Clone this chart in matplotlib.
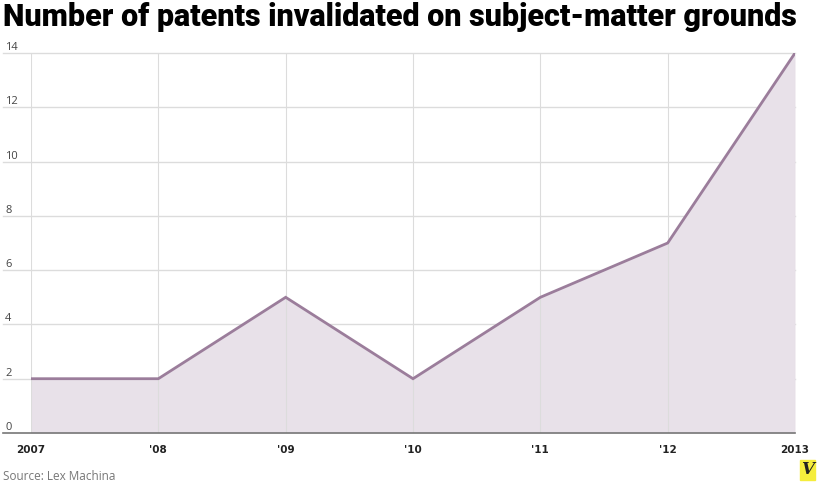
import matplotlib
matplotlib.use("Agg")
import matplotlib.pyplot as plt
from matplotlib.patches import Rectangle

# data
years = [2007, 2008, 2009, 2010, 2011, 2012, 2013]
year_labels = ["2007", "'08", "'09", "'10", "'11", "'12", "2013"]
invalidated = [2, 2, 5, 2, 5, 7, 14]
y_ticks = [0, 2, 4, 6, 8, 10, 12, 14]

line_color = "#9b7d9b"
fill_color = "#e8e1e9"
grid_color = "#dcdcdc"

fig = plt.figure(figsize=(8.18, 4.84), dpi=100)
ax = fig.add_axes([0.0379, 0.1054, 0.934, 0.785])

ax.fill_between(years, invalidated, 0, color=fill_color, lw=0, zorder=1)
ax.plot(years, invalidated, color=line_color, lw=2, zorder=3, solid_joinstyle="miter")

ax.set_xlim(years[0], years[-1])
ax.set_ylim(0, 14)

# gridlines reach out under the y labels
x_left = (3 - 31) / 764
for t in y_ticks[1:]:
    ax.axhline(t, xmin=x_left, xmax=1, color=grid_color, lw=1, zorder=0, clip_on=False)
ax.axhline(0, xmin=x_left, xmax=1, color="#777777", lw=1.2, zorder=4, clip_on=False)
for x in years:
    ax.axvline(x, color=grid_color, lw=0.8, zorder=2)

# y labels sit above their gridline at the far left
for t in y_ticks:
    ax.text(5 / 818, t, str(t), transform=ax.get_yaxis_transform().__class__(fig.transFigure, ax.transData),
            fontsize=8, color="#444444", ha="left", va="bottom", fontfamily="Open Sans")

for spine in ax.spines.values():
    spine.set_visible(False)
ax.set_yticks([])
ax.set_xticks(years)
ax.set_xticklabels(year_labels, fontsize=7.5, fontweight="bold", color="#222222")
ax.tick_params(axis="x", length=0, pad=9)

fig.text(0.004, 0.965, "Number of patents invalidated on subject-matter grounds",
         fontsize=22, fontweight="heavy", family=["Roboto", "DejaVu Sans"],
         ha="left", va="center", color="black")

fig.text(0.004, 0.003, "Source: Lex Machina", fontsize=8.5, color="#777777",
         ha="left", va="bottom", family=["Open Sans", "DejaVu Sans"])

# small vox logo bottom right
fig.patches.append(Rectangle((800 / 818, 4 / 484), 15 / 818, 20 / 484,
                             transform=fig.transFigure, color="#f5ed3c", zorder=5))
fig.text(807.5 / 818, 14 / 484, "V", fontsize=12, fontweight="bold", style="italic",
         family=["DejaVu Serif"], color="#222222", ha="center", va="center", zorder=6)

fig.savefig("out.png", dpi=100)
